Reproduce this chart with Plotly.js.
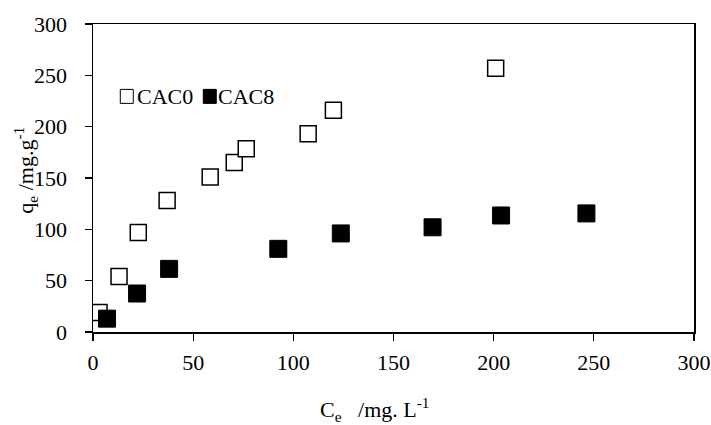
<!DOCTYPE html>
<html>
<head>
<meta charset="utf-8">
<script src="https://cdn.plot.ly/plotly-3.0.1.min.js"></script>
<style>html,body{margin:0;padding:0;background:#fff;}#chart{width:711px;height:425px;}</style>
</head>
<body>
<div id="chart"></div>
<script>
const cac0_x = [3, 13, 22.6, 37, 58.5, 70.5, 76.5, 107.4, 120, 201];
const cac0_y = [19, 54, 97, 128, 151, 165, 178.5, 193, 216, 257];
const cac8_x = [7, 22, 38, 92.5, 123.7, 169.5, 203.7, 246.3];
const cac8_y = [13, 37.5, 61.5, 81, 96, 102, 113.5, 115.5];
const seriesNames = ["CAC0", "CAC8"];
const tickVals = [0, 50, 100, 150, 200, 250, 300];
const tickText = ["0", "50", "100", "150", "200", "250", "300"];

const font = {family: "'Liberation Serif', 'Times New Roman', serif", size: 22, color: "#000"};

const traces = [
  {x: cac0_x, y: cac0_y, name: seriesNames[0], mode: "markers", type: "scatter",
   marker: {symbol: "square", size: 16, color: "#fff", line: {color: "#000", width: 1.5}}},
  {x: cac8_x, y: cac8_y, name: seriesNames[1], mode: "markers", type: "scatter",
   marker: {symbol: "square", size: 17, color: "#000", line: {color: "#000", width: 1}}}
];

const legY = 0.765;
const legendBox = (xa, filled) => ({
  type: "rect", xref: "paper", yref: "paper", xsizemode: "pixel", ysizemode: "pixel",
  xanchor: xa, yanchor: legY, x0: 0, x1: 13, y0: -7, y1: 7,
  line: {color: "#000", width: 1}, fillcolor: filled ? "#000" : "#fff"
});

const layout = {
  width: 711, height: 425,
  margin: {l: 93, r: 17, t: 24, b: 93},
  paper_bgcolor: "#fff", plot_bgcolor: "#fff",
  font: font,
  showlegend: false,
  xaxis: {range: [0, 300], tickvals: tickVals, ticktext: tickText, ticks: "outside", ticklen: 7,
          tickcolor: "#000", tickwidth: 1.2, showline: true, linecolor: "#000", linewidth: 1.5,
          mirror: true, showgrid: false, zeroline: false, tickfont: font, ticklabelstandoff: 3},
  yaxis: {range: [0, 300], tickvals: tickVals, ticktext: tickText, ticks: "outside", ticklen: 7,
          tickcolor: "#000", tickwidth: 1.2, showline: true, linecolor: "#000", linewidth: 1.5,
          mirror: true, showgrid: false, zeroline: false, tickfont: font, ticklabelstandoff: 13},
  shapes: [legendBox(0.0454, false), legendBox(0.1835, true)],
  annotations: [
    {text: seriesNames[0], xref: "paper", yref: "paper", x: 0.0720, y: legY,
     xanchor: "left", yanchor: "middle", showarrow: false, font: font, borderpad: 0},
    {text: seriesNames[1], xref: "paper", yref: "paper", x: 0.2055, y: legY,
     xanchor: "left", yanchor: "middle", showarrow: false, font: font, borderpad: 0},
    {text: "C<sub>e</sub>   /mg. L<sup>-1</sup>", xref: "paper", yref: "paper",
     x: 0.470, y: -0.250, xanchor: "center", yanchor: "middle", showarrow: false, font: font},
    {text: "q<sub>e</sub> /mg.g<sup>-1</sup>", xref: "paper", yref: "paper", textangle: -90,
     x: -0.112, y: 0.526, xanchor: "center", yanchor: "middle", showarrow: false, font: font}
  ]
};

Plotly.newPlot("chart", traces, layout, {displayModeBar: false, staticPlot: true});
</script>
</body>
</html>
